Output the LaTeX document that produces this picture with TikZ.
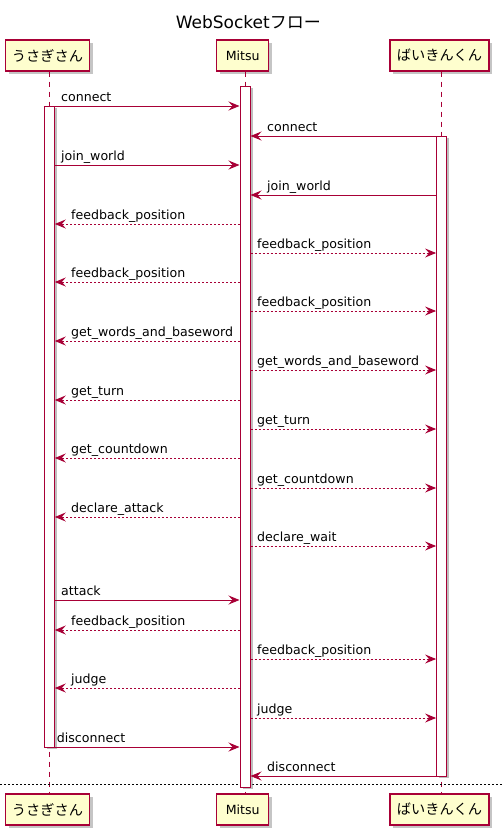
\documentclass[tikz,border=0pt]{standalone}
\usepackage{fontspec}
\setmainfont{DejaVu Sans}
\newfontfamily\jp{Noto Sans CJK JP}
\usetikzlibrary{arrows.meta,shadows}
\definecolor{pu}{HTML}{A80036}
\definecolor{puy}{HTML}{FEFECE}
\begin{document}
\begin{tikzpicture}[x=1pt,y=-1pt,
  font=\fontsize{12.6}{15}\selectfont,
  part/.style={draw=pu, fill=puy, line width=1.1pt, minimum height=31pt, inner sep=0pt,
    drop shadow={shadow xshift=3pt, shadow yshift=-3pt, fill=black!50, opacity=0.45}},
  jpname/.style={font=\jp\fontsize{14.2}{16}\selectfont},
  act/.style={draw=pu, fill=white, line width=1pt, minimum width=10pt, inner sep=0pt,
    drop shadow={shadow xshift=2.5pt, shadow yshift=-2pt, fill=black!50, opacity=0.5}},
  life/.style={draw=pu, line width=0.9pt, dash pattern=on 5pt off 5pt},
  msg/.style={draw=pu, line width=1pt, -{Stealth[length=11pt,width=9pt,inset=4pt]}},
  ret/.style={msg, dash pattern=on 2pt off 2pt},
  lbl/.style={anchor=base west, inner sep=0pt, text=black},
  sep/.style={draw=black, line width=0.8pt, dash pattern=on 2pt off 2pt}
]
\useasboundingbox (0,0) rectangle (503,838);
\fill[white] (0,0) rectangle (503,838);

% title
\node[anchor=base, inner sep=0pt, font=\fontsize{17}{20}\selectfont] (title) at (248.3,28) {WebSocket{\jp フロー}};

% participant boxes (top and bottom)
\node[part, jpname, minimum width=84pt] (u1) at (47.5,55.5) {うさぎさん};
\node[part, minimum width=52pt] (m1) at (242.7,55.5) {Mitsu};
\node[part, jpname, minimum width=99pt] (b1) at (439.5,55.5) {ばいきんくん};
\node[part, jpname, minimum width=84pt] (u2) at (47.5,809.5) {うさぎさん};
\node[part, minimum width=52pt] (m2) at (242.7,809.5) {Mitsu};
\node[part, jpname, minimum width=99pt] (b2) at (439.5,809.5) {ばいきんくん};

% lifeline anchors
\coordinate (lu) at (49.3,0);
\coordinate (lm) at (245,0);
\coordinate (lb) at (441.6,0);

\draw[life] (lu |- u1.south) -- (lu |- u2.north);
\draw[life] (lm |- m1.south) -- (lm |- m2.north);
\draw[life] (lb |- b1.south) -- (lb |- b2.north);

% separator
\draw[sep] (0,784) coordinate (s1) -- (503,784) coordinate (s2);

% activations
\node[act, minimum height=641pt] (actU) at (49.3,426.5) {};
\node[act, minimum height=701pt] (actM) at (245,436.5) {};
\node[act, minimum height=640pt] (actB) at (441.6,456) {};

% U -> M solid
\draw[msg] (actU.west |- 0,106) -- (actM.west |- 0,106);
\node[lbl] (l1) at (61,101.5) {connect};
\foreach \y/\lab [count=\i] in {165/join\_world, 600/attack}{
  \draw[msg] (actU.east |- 0,\y) -- (actM.west |- 0,\y);
  \node[lbl] (lu\i) at (61,\y-4.5) {\lab};
}
\draw[msg] (actU.east |- 0,747) -- (actM.west |- 0,747);
\node[lbl] (l22) at (56.7,742.5) {disconnect};

% B -> M solid
\foreach \y/\lab [count=\i] in {136/connect, 195/join\_world, 776/disconnect}{
  \draw[msg] (actB.west |- 0,\y) -- (actM.east |- 0,\y);
  \node[lbl] (lb\i) at (267,\y-4.5) {\lab};
}

% M -> U dashed
\foreach \y/\lab [count=\i] in {224/feedback\_position, 282/feedback\_position,
   341/get\_words\_and\_baseword, 400/get\_turn, 458/get\_countdown,
   517/declare\_attack, 630/feedback\_position, 688/judge}{
  \draw[ret] (actM.west |- 0,\y) -- (actU.east |- 0,\y);
  \node[lbl] (ru\i) at (71,\y-4.5) {\lab};
}

% M -> B dashed
\foreach \y/\lab [count=\i] in {253/feedback\_position, 311/feedback\_position,
   370/get\_words\_and\_baseword, 429/get\_turn, 488/get\_countdown,
   546/declare\_wait, 659/feedback\_position, 718/judge}{
  \draw[ret] (actM.east |- 0,\y) -- (actB.west |- 0,\y);
  \node[lbl] (rb\i) at (257,\y-4.5) {\lab};
}
\end{tikzpicture}
\end{document}
